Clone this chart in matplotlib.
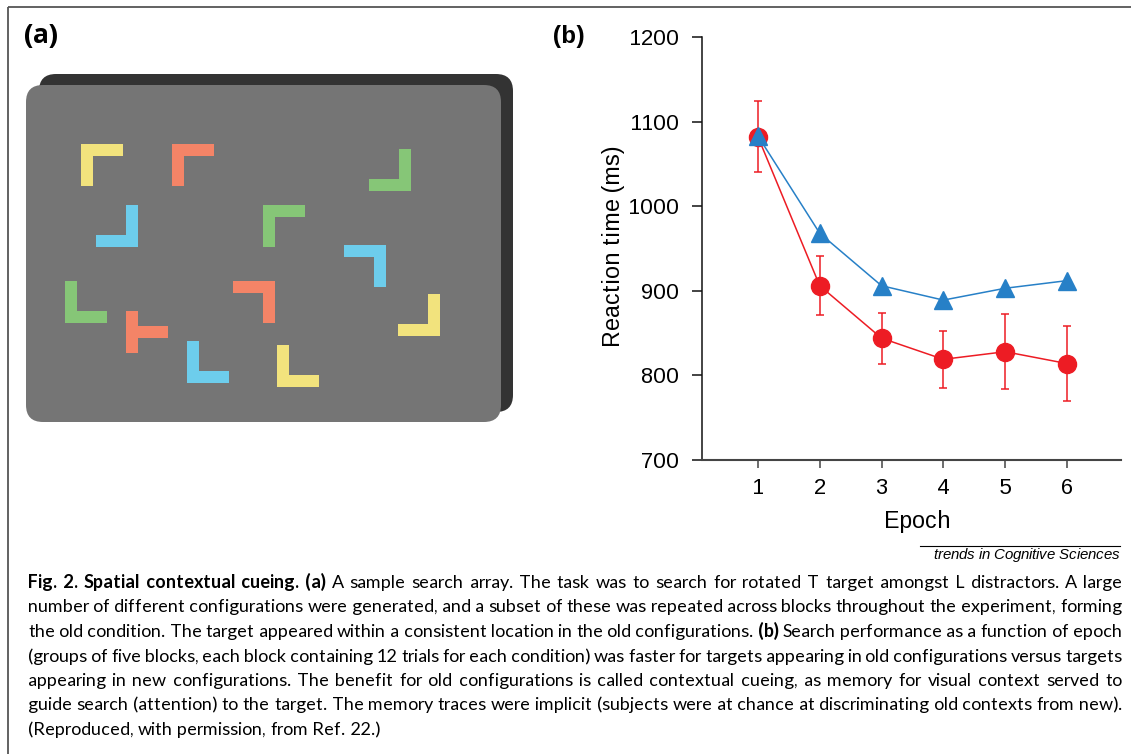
import matplotlib
matplotlib.use("Agg")
import matplotlib.pyplot as plt
from matplotlib.patches import FancyBboxPatch, Rectangle

plt.rcParams["text.hinting_factor"] = 1

# ========= data =========
epochs = [1, 2, 3, 4, 5, 6]
rt_new = [1083, 968, 906, 889, 903, 912]      # blue triangles
rt_old = [1082, 906, 844, 819, 828, 814]      # red circles
err_old = [42, 35, 30, 34, 44, 44]
y_ticks = [700, 800, 900, 1000, 1100, 1200]

# search array (a): item centre (px), colour, which corner the L has
item_x = [102, 193, 390, 117, 284, 365, 86, 147, 254, 419, 208, 298]
item_y = [165, 165, 170, 226, 226, 266, 302, 332, 302, 315, 362, 366]
item_col = ["yellow", "salmon", "green", "blue", "green", "blue",
            "green", "salmon", "salmon", "yellow", "blue", "yellow"]
item_kind = ["tl", "tl", "br", "br", "tl", "tr", "bl", "T", "tr", "br", "bl", "bl"]

caption_lines = [
    "**Fig. 2. Spatial contextual cueing. (a)** A sample search array. The task was to search for rotated T target amongst L distractors. A large",
    "number of different configurations were generated, and a subset of these was repeated across blocks throughout the experiment, forming",
    "the old condition. The target appeared within a consistent location in the old configurations. **(b)** Search performance as a function of epoch",
    "(groups of five blocks, each block containing 12 trials for each condition) was faster for targets appearing in old configurations versus targets",
    "appearing in new configurations. The benefit for old configurations is called contextual cueing, as memory for visual context served to",
    "guide search (attention) to the target. The memory traces were implicit (subjects were at chance at discriminating old contexts from new).",
    "(Reproduced, with permission, from Ref. 22.)",
]

# ========= style =========
W, H = 1131, 754
palette = {"yellow": "#F2E37D", "salmon": "#F48467", "green": "#86C677", "blue": "#6DCDEC"}
RED, BLUE = "#ED1C24", "#2780C7"
CHART_FONT = "Liberation Sans"
CAP_FONT = "Lato"

fig = plt.figure(figsize=(W / 100, H / 100), dpi=100)

# background canvas in pixel coords
bg = fig.add_axes([0, 0, 1, 1])
bg.set_xlim(0, W)
bg.set_ylim(H, 0)
bg.axis("off")

# frame (top + left)
bg.plot([8, W], [7, 7], color="#555555", lw=1.3, solid_capstyle="butt")
bg.plot([8, 8], [7, H], color="#555555", lw=1.3, solid_capstyle="butt")

# panel (a): screen with shadow
bg.add_patch(FancyBboxPatch((39, 74), 474, 338, boxstyle="round,pad=0,rounding_size=17",
                            fc="#333333", ec="none"))
bg.add_patch(FancyBboxPatch((26, 85), 475, 337, boxstyle="round,pad=0,rounding_size=17",
                            fc="#757575", ec="none"))

S, T = 42, 12  # item size, stroke thickness
for cx, cy, c, k in zip(item_x, item_y, item_col, item_kind):
    x0, y0 = cx - S / 2, cy - S / 2
    col = palette[c]
    if k == "T":
        rects = [(x0, y0, T, S), (x0 + T, cy - T / 2, S - T, T)]
    else:
        vx = x0 if k[1] == "l" else x0 + S - T
        hy = y0 if k[0] == "t" else y0 + S - T
        rects = [(vx, y0, T, S), (x0, hy, S, T)]
    for rx, ry, rw, rh in rects:
        bg.add_patch(Rectangle((rx, ry), rw, rh, fc=col, ec="none"))

bg.text(24, 43, "(a)", family="Open Sans", weight="bold", fontsize=18.5, va="baseline")
bg.text(553, 43, "(b)", family=CHART_FONT, weight="bold", fontsize=17.5, va="baseline")

# ========= panel (b) chart =========
ax = fig.add_axes([701.7 / W, 1 - 460 / H, 419 / W, 423 / H])
ax.set_facecolor("none")
ax.errorbar(epochs, rt_old, yerr=err_old, color=RED, ecolor=RED, lw=1.1,
            elinewidth=1.1, capsize=3, capthick=1.1, marker="o", ms=13,
            mec=RED, mfc=RED, zorder=3)
ax.plot(epochs, rt_new, color=BLUE, lw=1.1, marker="^", ms=13, mec=BLUE,
        mfc=BLUE, zorder=4)

ax.set_xlim(0.09, 6.87)
ax.set_ylim(700, 1200)
ax.set_xticks(epochs)
ax.set_yticks(y_ticks)
for s in ["top", "right"]:
    ax.spines[s].set_visible(False)
ax.spines["left"].set_color("#111111")
ax.spines["bottom"].set_color("#444444")
ax.spines["left"].set_linewidth(1.1)
ax.spines["bottom"].set_linewidth(1.5)
ax.tick_params(axis="x", length=6, width=1.1, pad=7, labelsize=15.5, color="#444444")
ax.tick_params(axis="y", length=7, width=1.1, pad=9, labelsize=15.5, color="#111111")
for lab in ax.get_xticklabels() + ax.get_yticklabels():
    lab.set_family(CHART_FONT)
ax.set_xlabel("Epoch", family=CHART_FONT, fontsize=16.5)
ax.set_ylabel("Reaction time (ms)", family=CHART_FONT, fontsize=16.5)
ax.xaxis.set_label_coords(0.516, -0.118)
ax.yaxis.set_label_coords(-0.182, 0.505)

# source line
bg.plot([920, 1120], [546, 546], color="black", lw=0.8)
bg.text(1120, 559, "trends in Cognitive Sciences", family=CHART_FONT, style="italic",
        fontsize=10.5, ha="right", va="baseline")

# ========= caption, justified =========
renderer = fig.canvas.get_renderer()


def parse(line):
    words = []
    for i, part in enumerate(line.split("**")):
        for w in part.split():
            words.append((w, i % 2 == 1))
    return words


def text_width(s, bold, size):
    t = fig.text(0, 0, s, family=CAP_FONT, fontsize=size,
                 weight="bold" if bold else "normal")
    w = t.get_window_extent(renderer).width
    t.remove()
    return w


cap_left, cap_right = 28, 1122
base0, line_gap = 588, 24.5
size = 12.4
space = text_width("a a", False, size) - text_width("aa", False, size)
parsed = [parse(l) for l in caption_lines]
widths = [[text_width(w, b, size) for w, b in p] for p in parsed]
natural = [sum(ws) + space * (len(ws) - 1) for ws in widths[:-1]]
# grow/shrink so the widest line just fills the measure
scale = 0.99 * (cap_right - cap_left) / max(natural)
size *= scale
space *= scale
widths = [[text_width(w, b, size) for w, b in p] for p in parsed]

for i, (words, ws) in enumerate(zip(parsed, widths)):
    if i < len(parsed) - 1 and len(ws) > 1:
        gap = (cap_right - cap_left - sum(ws)) / (len(ws) - 1)
    else:
        gap = space
    x = cap_left
    yb = round(base0 + i * line_gap)
    for (w, b), wpx in zip(words, ws):
        bg.text(x, yb, w, family=CAP_FONT, fontsize=size,
                weight="bold" if b else "normal", va="baseline", ha="left")
        x += wpx + gap

fig.savefig("out.png", dpi=100)
